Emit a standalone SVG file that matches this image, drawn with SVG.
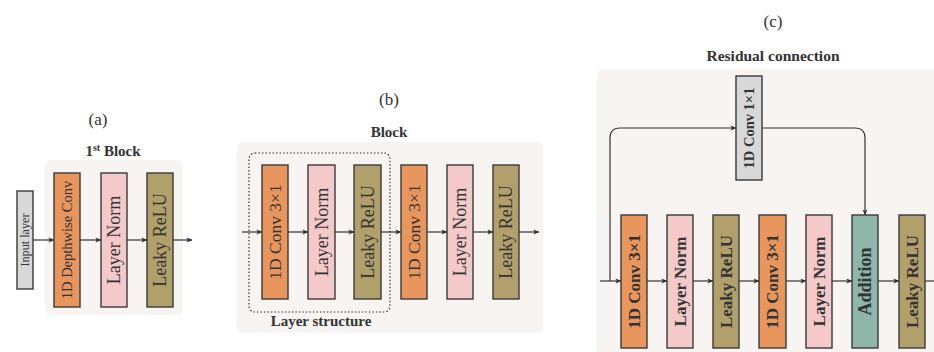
<svg xmlns="http://www.w3.org/2000/svg" width="934" height="352" viewBox="0 0 934 352">
<defs>
<style>
.bg{fill:#f8f4f1;}
.box{stroke:#3a3a3a;stroke-width:1.4;}
.gray{fill:#d8d8d8;}
.orange{fill:#e8965e;}
.pink{fill:#f3c9ca;}
.olive{fill:#b2a06c;}
.teal{fill:#8fb6ab;}
.lbl{font-family:"Liberation Serif",serif;fill:#333;text-anchor:middle;dominant-baseline:central;}
.b{font-weight:bold;}
.title{font-family:"Liberation Serif",serif;fill:#333;text-anchor:middle;}
.conn{fill:none;stroke:#333;stroke-width:1.2;}
</style>
<marker id="ah" viewBox="0 0 8 8" refX="7.5" refY="4" markerWidth="6" markerHeight="6" markerUnits="userSpaceOnUse" orient="auto">
<path d="M0,0.8 L8,4 L0,7.2 L2,4 Z" fill="#333"/>
</marker>
</defs>

<!-- Panel backgrounds -->
<rect class="bg" x="45" y="160" width="138" height="155" rx="6"/>
<rect class="bg" x="237" y="142" width="306" height="191" rx="6"/>
<rect class="bg" x="597" y="69" width="345" height="295" rx="6"/>

<!-- Titles -->
<text class="title" x="98" y="125" font-size="17">(a)</text>
<text class="title b" x="113" y="156" font-size="15">1<tspan font-size="10" dy="-5">st</tspan><tspan dy="5"> Block</tspan></text>
<text class="title" x="389" y="105" font-size="17">(b)</text>
<text class="title b" x="389" y="137" font-size="15">Block</text>
<text class="title b" x="321" y="326" font-size="15">Layer structure</text>
<text class="title" x="773" y="27" font-size="17">(c)</text>
<text class="title b" x="773" y="61" font-size="15.5">Residual connection</text>

<!-- Dotted layer structure -->
<rect x="249" y="153" width="141" height="159" rx="6" fill="none" stroke="#333" stroke-width="1.2" stroke-dasharray="1.5,2"/>

<!-- Connectors -->
<g id="connectors">
<line class="conn" x1="33" y1="240" x2="54" y2="240" marker-end="url(#ah)"/>
<line class="conn" x1="80" y1="240" x2="101" y2="240" marker-end="url(#ah)"/>
<line class="conn" x1="127" y1="240" x2="147" y2="240" marker-end="url(#ah)"/>
<line class="conn" x1="173" y1="240" x2="192" y2="240" marker-end="url(#ah)"/>

<line class="conn" x1="242" y1="232" x2="262" y2="232" marker-end="url(#ah)"/>
<line class="conn" x1="288" y1="232" x2="308" y2="232" marker-end="url(#ah)"/>
<line class="conn" x1="335" y1="232" x2="354" y2="232" marker-end="url(#ah)"/>
<line class="conn" x1="381" y1="232" x2="401" y2="232" marker-end="url(#ah)"/>
<line class="conn" x1="427" y1="232" x2="447" y2="232" marker-end="url(#ah)"/>
<line class="conn" x1="473" y1="232" x2="493" y2="232" marker-end="url(#ah)"/>
<line class="conn" x1="519" y1="232" x2="539" y2="232" marker-end="url(#ah)"/>

<line class="conn" x1="600" y1="281" x2="621" y2="281" marker-end="url(#ah)"/>
<line class="conn" x1="647" y1="281" x2="667" y2="281" marker-end="url(#ah)"/>
<line class="conn" x1="693" y1="281" x2="713" y2="281" marker-end="url(#ah)"/>
<line class="conn" x1="739" y1="281" x2="759" y2="281" marker-end="url(#ah)"/>
<line class="conn" x1="786" y1="281" x2="806" y2="281" marker-end="url(#ah)"/>
<line class="conn" x1="832" y1="281" x2="852" y2="281" marker-end="url(#ah)"/>
<line class="conn" x1="878" y1="281" x2="899" y2="281" marker-end="url(#ah)"/>
<line class="conn" x1="925" y1="281" x2="934" y2="281"/>
<path class="conn" d="M610,281 L610,138 Q610,128 620,128 L736,128" marker-end="url(#ah)"/>
<path class="conn" d="M762,128 L855,128 Q865,128 865,138 L865,215" marker-end="url(#ah)"/>
</g>

<!-- Panel (a) -->
<g id="a_input"><rect class="box gray" x="17" y="191" width="16" height="98"/><text class="lbl" transform="translate(25,240) rotate(-90)" font-size="12.2">Input layer</text></g>
<g id="a_dwconv"><rect class="box orange" x="54" y="173" width="26" height="134"/><text class="lbl" transform="translate(67,240) rotate(-90)" font-size="14.5">1D Depthwise Conv</text></g>
<g id="a_ln"><rect class="box pink" x="101" y="173" width="26" height="134"/><text class="lbl" transform="translate(114,240) rotate(-90)" font-size="18">Layer Norm</text></g>
<g id="a_relu"><rect class="box olive" x="147" y="173" width="26" height="134"/><text class="lbl" transform="translate(160,240) rotate(-90)" font-size="18">Leaky ReLU</text></g>

<!-- Panel (b) -->
<g id="b_conv1"><rect class="box orange" x="262" y="165" width="26" height="134"/><text class="lbl" transform="translate(275,232) rotate(-90)" font-size="17.5">1D Conv 3×1</text></g>
<g id="b_ln1"><rect class="box pink" x="308" y="165" width="27" height="134"/><text class="lbl" transform="translate(321.5,232) rotate(-90)" font-size="18">Layer Norm</text></g>
<g id="b_relu1"><rect class="box olive" x="354" y="165" width="27" height="134"/><text class="lbl" transform="translate(367.5,232) rotate(-90)" font-size="18">Leaky ReLU</text></g>
<g id="b_conv2"><rect class="box orange" x="401" y="165" width="26" height="134"/><text class="lbl" transform="translate(414,232) rotate(-90)" font-size="17.5">1D Conv 3×1</text></g>
<g id="b_ln2"><rect class="box pink" x="447" y="165" width="26" height="134"/><text class="lbl" transform="translate(460,232) rotate(-90)" font-size="18">Layer Norm</text></g>
<g id="b_relu2"><rect class="box olive" x="493" y="165" width="26" height="134"/><text class="lbl" transform="translate(506,232) rotate(-90)" font-size="18">Leaky ReLU</text></g>

<!-- Panel (c) -->
<g id="c_conv1x1"><rect class="box gray" x="736" y="76" width="26" height="104"/><text class="lbl b" transform="translate(749,128) rotate(-90)" font-size="14.5">1D Conv 1×1</text></g>
<g id="c_conv1"><rect class="box orange" x="621" y="215" width="26" height="133"/><text class="lbl b" transform="translate(634,281.5) rotate(-90)" font-size="17">1D Conv 3×1</text></g>
<g id="c_ln1"><rect class="box pink" x="667" y="215" width="26" height="133"/><text class="lbl b" transform="translate(680,281.5) rotate(-90)" font-size="17">Layer Norm</text></g>
<g id="c_relu1"><rect class="box olive" x="713" y="215" width="26" height="133"/><text class="lbl b" transform="translate(726,281.5) rotate(-90)" font-size="17">Leaky ReLU</text></g>
<g id="c_conv2"><rect class="box orange" x="759" y="215" width="27" height="133"/><text class="lbl b" transform="translate(772.5,281.5) rotate(-90)" font-size="17">1D Conv 3×1</text></g>
<g id="c_ln2"><rect class="box pink" x="806" y="215" width="26" height="133"/><text class="lbl b" transform="translate(819,281.5) rotate(-90)" font-size="17">Layer Norm</text></g>
<g id="c_add"><rect class="box teal" x="852" y="215" width="26" height="133"/><text class="lbl b" transform="translate(865,281.5) rotate(-90)" font-size="18">Addition</text></g>
<g id="c_relu2"><rect class="box olive" x="899" y="215" width="26" height="133"/><text class="lbl b" transform="translate(912,281.5) rotate(-90)" font-size="17">Leaky ReLU</text></g>
</svg>
